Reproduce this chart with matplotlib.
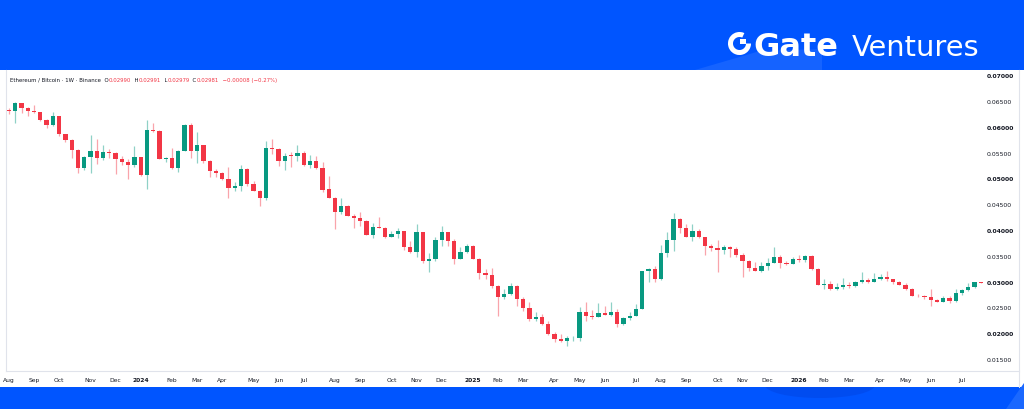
import matplotlib
matplotlib.use("Agg")
import matplotlib.pyplot as plt
import numpy as np
import pandas as pd
from matplotlib.patches import Rectangle, Wedge, Polygon, Ellipse

# --------------------------------------
# Data: ETH/BTC weekly candles (Binance)
# --------------------------------------
start_week = "2023-08-07"

opens = [
    0.0632, 0.0630, 0.0646, 0.0637, 0.0631, 0.0628, 0.0613, 0.0604, 0.0621, 0.0586,
    0.0575, 0.0556, 0.0521, 0.0542, 0.0553, 0.0540, 0.0552, 0.0550, 0.0538, 0.0531,
    0.0527, 0.0541, 0.0506, 0.0594, 0.0592, 0.0538, 0.0539, 0.0520, 0.0554, 0.0604,
    0.0554, 0.0564, 0.0534, 0.0515, 0.0511, 0.0499, 0.0481, 0.0485, 0.0518, 0.0490,
    0.0476, 0.0463, 0.0560, 0.0558, 0.0533, 0.0545, 0.0543, 0.0549, 0.0526, 0.0534,
    0.0520, 0.0479, 0.0463, 0.0436, 0.0447, 0.0428, 0.0423, 0.0418, 0.0391, 0.0406,
    0.0405, 0.0387, 0.0392, 0.0398, 0.0368, 0.0357, 0.0396, 0.0341, 0.0343, 0.0381,
    0.0396, 0.0378, 0.0344, 0.0357, 0.0370, 0.0344, 0.0316, 0.0313, 0.0292, 0.0271,
    0.0276, 0.0292, 0.0267, 0.0249, 0.0228, 0.0232, 0.0218, 0.0199, 0.0189, 0.0185,
    0.0190, 0.0191, 0.0241, 0.0233, 0.0232, 0.0239, 0.0236, 0.0241, 0.0218, 0.0230,
    0.0234, 0.0248, 0.0320, 0.0324, 0.0305, 0.0356, 0.0381, 0.0421, 0.0405, 0.0387,
    0.0399, 0.0386, 0.0370, 0.0365, 0.0361, 0.0367, 0.0364, 0.0352, 0.0341, 0.0327,
    0.0321, 0.0330, 0.0337, 0.0347, 0.0337, 0.0335, 0.0343, 0.0342, 0.0350, 0.0325,
    0.0294, 0.0296, 0.0285, 0.0289, 0.0294, 0.0292, 0.0299, 0.0303, 0.0300, 0.0305,
    0.0310, 0.0305, 0.0300, 0.0294, 0.0286, 0.0273, 0.0272, 0.0271, 0.0265, 0.0261,
    0.0268, 0.0263, 0.0279, 0.0283, 0.0289, 0.02990,
]
highs = [
    0.0637, 0.0648, 0.0647, 0.0639, 0.0643, 0.0629, 0.0615, 0.0628, 0.0622, 0.0586,
    0.0576, 0.0557, 0.0544, 0.0584, 0.0576, 0.0565, 0.0557, 0.0551, 0.0544, 0.0538,
    0.0563, 0.0542, 0.0613, 0.0607, 0.0593, 0.0542, 0.0560, 0.0555, 0.0605, 0.0607,
    0.0591, 0.0565, 0.0535, 0.0518, 0.0512, 0.0522, 0.0493, 0.0526, 0.0520, 0.0495,
    0.0477, 0.0572, 0.0576, 0.0559, 0.0549, 0.0552, 0.0565, 0.0554, 0.0546, 0.0543,
    0.0531, 0.0504, 0.0464, 0.0462, 0.0448, 0.0431, 0.0435, 0.0419, 0.0414, 0.0425,
    0.0406, 0.0399, 0.0405, 0.0399, 0.0378, 0.0412, 0.0397, 0.0356, 0.0387, 0.0407,
    0.0397, 0.0382, 0.0367, 0.0374, 0.0371, 0.0346, 0.0324, 0.0326, 0.0293, 0.0285,
    0.0297, 0.0293, 0.0271, 0.0260, 0.0242, 0.0237, 0.0224, 0.0203, 0.0198, 0.0195,
    0.0194, 0.0250, 0.0261, 0.0245, 0.0258, 0.0253, 0.0261, 0.0247, 0.0231, 0.0241,
    0.0256, 0.0321, 0.0326, 0.0331, 0.0371, 0.0397, 0.0433, 0.0423, 0.0411, 0.0412,
    0.0402, 0.0387, 0.0373, 0.0381, 0.0371, 0.0369, 0.0368, 0.0355, 0.0342, 0.0338,
    0.0339, 0.0345, 0.0368, 0.0352, 0.0340, 0.0348, 0.0352, 0.0352, 0.0351, 0.0326,
    0.0305, 0.0302, 0.0298, 0.0307, 0.0299, 0.0302, 0.0318, 0.0307, 0.0317, 0.0315,
    0.0321, 0.0306, 0.0301, 0.0297, 0.0287, 0.0276, 0.0275, 0.0286, 0.0266, 0.0273,
    0.0273, 0.0286, 0.0285, 0.0297, 0.02995, 0.02991,
]
lows = [
    0.0624, 0.0608, 0.0626, 0.0622, 0.0627, 0.0611, 0.0597, 0.0602, 0.0583, 0.0570,
    0.0540, 0.0511, 0.0517, 0.0511, 0.0529, 0.0535, 0.0540, 0.0509, 0.0526, 0.0499,
    0.0522, 0.0505, 0.0480, 0.0591, 0.0537, 0.0532, 0.0519, 0.0513, 0.0553, 0.0540,
    0.0530, 0.0530, 0.0503, 0.0502, 0.0497, 0.0463, 0.0476, 0.0476, 0.0486, 0.0475,
    0.0447, 0.0458, 0.0547, 0.0524, 0.0517, 0.0522, 0.0533, 0.0524, 0.0520, 0.0518,
    0.0473, 0.0462, 0.0402, 0.0431, 0.0427, 0.0404, 0.0408, 0.0390, 0.0384, 0.0404,
    0.0385, 0.0386, 0.0385, 0.0362, 0.0356, 0.0347, 0.0336, 0.0319, 0.0341, 0.0370,
    0.0370, 0.0334, 0.0343, 0.0356, 0.0343, 0.0306, 0.0306, 0.0287, 0.0233, 0.0267,
    0.0275, 0.0253, 0.0243, 0.0223, 0.0224, 0.0216, 0.0197, 0.0184, 0.0183, 0.0176,
    0.0186, 0.0186, 0.0224, 0.0228, 0.0231, 0.0235, 0.0234, 0.0213, 0.0217, 0.0226,
    0.0233, 0.0247, 0.0300, 0.0300, 0.0304, 0.0347, 0.0360, 0.0394, 0.0386, 0.0379,
    0.0385, 0.0352, 0.0360, 0.0319, 0.0354, 0.0347, 0.0347, 0.0310, 0.0321, 0.0320,
    0.0319, 0.0322, 0.0336, 0.0326, 0.0333, 0.0334, 0.0338, 0.0338, 0.0323, 0.0293,
    0.0286, 0.0283, 0.0284, 0.0286, 0.0287, 0.0289, 0.0298, 0.0298, 0.0299, 0.0304,
    0.0302, 0.0295, 0.0293, 0.0284, 0.0272, 0.0270, 0.0267, 0.0253, 0.0260, 0.0260,
    0.0258, 0.0261, 0.0274, 0.0281, 0.0288, 0.02979,
]
closes = [
    0.0631, 0.0646, 0.0637, 0.0631, 0.0628, 0.0613, 0.0604, 0.0621, 0.0586, 0.0575,
    0.0556, 0.0521, 0.0542, 0.0553, 0.0540, 0.0552, 0.0550, 0.0538, 0.0531, 0.0527,
    0.0541, 0.0506, 0.0594, 0.0592, 0.0538, 0.0539, 0.0520, 0.0554, 0.0604, 0.0554,
    0.0564, 0.0534, 0.0515, 0.0511, 0.0499, 0.0481, 0.0485, 0.0518, 0.0490, 0.0476,
    0.0463, 0.0559, 0.0558, 0.0533, 0.0544, 0.0543, 0.0549, 0.0526, 0.0534, 0.0520,
    0.0478, 0.0463, 0.0436, 0.0447, 0.0428, 0.0423, 0.0418, 0.0391, 0.0406, 0.0405,
    0.0387, 0.0392, 0.0398, 0.0368, 0.0357, 0.0396, 0.0341, 0.0343, 0.0381, 0.0396,
    0.0378, 0.0344, 0.0357, 0.0370, 0.0344, 0.0316, 0.0313, 0.0292, 0.0271, 0.0276,
    0.0292, 0.0267, 0.0249, 0.0228, 0.0232, 0.0218, 0.0199, 0.0189, 0.0185, 0.0190,
    0.0191, 0.0241, 0.0233, 0.0232, 0.0239, 0.0236, 0.0241, 0.0218, 0.0230, 0.0234,
    0.0248, 0.0320, 0.0324, 0.0305, 0.0356, 0.0381, 0.0421, 0.0405, 0.0387, 0.0399,
    0.0386, 0.0370, 0.0365, 0.0361, 0.0367, 0.0364, 0.0352, 0.0341, 0.0327, 0.0321,
    0.0330, 0.0337, 0.0347, 0.0337, 0.0335, 0.0343, 0.0342, 0.0350, 0.0325, 0.0294,
    0.0296, 0.0285, 0.0289, 0.0294, 0.0292, 0.0299, 0.0303, 0.0300, 0.0305, 0.0310,
    0.0305, 0.0300, 0.0294, 0.0286, 0.0273, 0.0272, 0.0271, 0.0265, 0.0261, 0.0268,
    0.0263, 0.0279, 0.0283, 0.0289, 0.02989, 0.02981,
]

price_ticks = [0.015, 0.020, 0.025, 0.030, 0.035, 0.040, 0.045, 0.050, 0.055, 0.060, 0.065, 0.070]

# colours
BLUE = "#0055ff"
UP = "#089981"
DOWN = "#f23645"
TXT = "#131722"
LINE = "#e0e3eb"

W, H = 1024, 410
fig = plt.figure(figsize=(W / 100, H / 100), dpi=100)
fig.patch.set_facecolor("white")

# background layer in pixel coordinates (banner, bands, logo, header)
bg = fig.add_axes([0, 0, 1, 1], zorder=0)
bg.set_xlim(0, W)
bg.set_ylim(H, 0)
bg.axis("off")

bg.add_patch(Rectangle((0, 0), W, 71, color=BLUE, lw=0))
bg.add_patch(Polygon([(695, 71), (822, 71), (822, 50), (760, 52)], color="#1563ff", lw=0))
band = Rectangle((0, 387.5), W, H - 387.5, color=BLUE, lw=0)
bg.add_patch(band)
arc = Ellipse((820, 386), 110, 26, color="#004cf0", lw=0)
bg.add_patch(arc)
arc.set_clip_path(band)
bg.add_patch(Polygon([(1006, 410), (1024, 384), (1024, 410)], color="#1a68ff", lw=0))

# logo
bg.add_patch(Wedge((739.5, 44.5), 11.5, 0, 295, width=5, color="white", lw=0))
bg.add_patch(Rectangle((739.5, 39.5), 6.5, 5, color="white", lw=0))
bg.text(753, 56.5, "Gate", fontsize=23, fontweight="bold", color="white", va="baseline")
bg.text(852, 56.5, "Ventures", fontsize=20.8, color="white", va="baseline")

# frame lines
bg.plot([1019, 1019], [71, 387.5], color=LINE, lw=0.8)
bg.plot([6, 1019], [371.7, 371.7], color=LINE, lw=0.8)
bg.plot([6, 6], [71, 371.7], color=LINE, lw=0.8)

# header line with last candle values
chg = closes[-1] - closes[-2]
pct = chg / closes[-2] * 100
pieces = [
    ("Ethereum / Bitcoin · 1W · Binance", TXT),
    ("  O", TXT), (f"{opens[-1]:.5f}", DOWN),
    ("  H", TXT), (f"{highs[-1]:.5f}", DOWN),
    ("  L", TXT), (f"{lows[-1]:.5f}", DOWN),
    ("  C", TXT), (f"{closes[-1]:.5f}", DOWN),
    (f"  {chg:+.5f} ({pct:+.2f}%)".replace("-", "\u2212"), DOWN),
]
prev = bg.text(10, 80.5, pieces[0][0], fontsize=3.9, color=pieces[0][1], va="center")
for txt, col in pieces[1:]:
    prev = bg.annotate(txt, xy=(1, 0.5), xycoords=prev, va="center", ha="left",
                       fontsize=3.9, color=col)

# --------------------------------------
# Candles
# --------------------------------------
ax = fig.add_axes([6 / W, (H - 371.7) / H, (985 - 6) / W, (371.7 - 72) / H], zorder=1)
ax.patch.set_alpha(0)

o = np.array(opens)
h = np.array(highs)
l = np.array(lows)
c = np.array(closes)
x = np.arange(len(c))
cols = np.where(c >= o, UP, DOWN)

ax.vlines(x, l, h, colors=cols, lw=0.9, alpha=0.45)
body = np.maximum(np.abs(c - o), 0.00012)
ax.bar(x, body, bottom=np.minimum(o, c), width=0.68, color=cols, lw=0)

ax.set_xlim(-0.48, 155.66)
ax.set_ylim(0.01275, 0.07083)

# month labels at first weekly bar of each month
dates = pd.date_range(start_week, periods=len(c), freq="W-MON")
tick_pos, tick_lab = [], []
for i, d in enumerate(dates):
    if i == 0 or d.month != dates[i - 1].month:
        tick_pos.append(i)
        tick_lab.append(str(d.year) if d.month == 1 else d.strftime("%b"))
ax.set_xticks(tick_pos)
ax.set_xticklabels(tick_lab)
for t in ax.get_xticklabels():
    t.set_fontsize(4.3)
    t.set_color(TXT)
    if t.get_text().isdigit():
        t.set_fontweight("bold")

ax.yaxis.tick_right()
ax.set_yticks(price_ticks)
ax.set_yticklabels([f"{p:.5f}" for p in price_ticks])
for t, p in zip(ax.get_yticklabels(), price_ticks):
    t.set_fontsize(4.4)
    t.set_color(TXT)
    if round(p * 1000) % 10 == 0:
        t.set_fontweight("bold")

ax.tick_params(axis="x", length=0, pad=4.5)
ax.tick_params(axis="y", length=0, pad=1.5)
for s in ax.spines.values():
    s.set_visible(False)

fig.savefig("out.png", dpi=100)
